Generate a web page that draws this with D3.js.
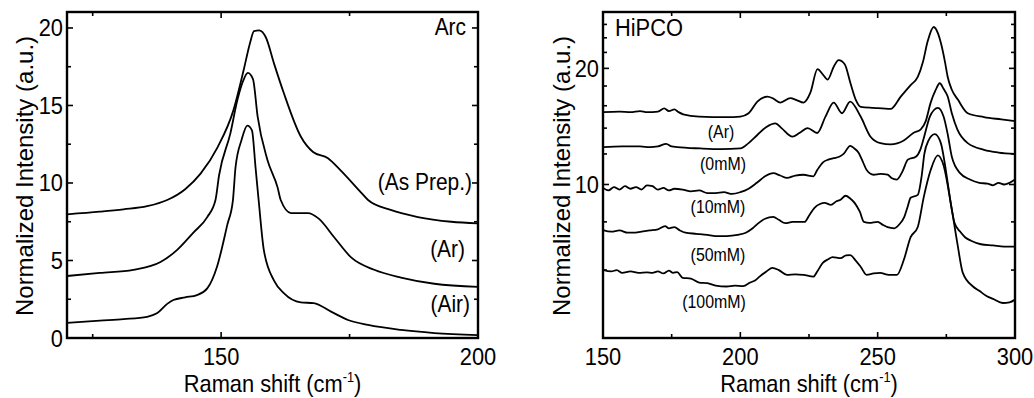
<!DOCTYPE html>
<html>
<head>
<meta charset="utf-8">
<script src="https://cdn.jsdelivr.net/npm/d3@7"></script>
<style>
  body { margin: 0; background: #fff; }
  svg text { font-family: "Liberation Sans", Arial, sans-serif; fill: #000; }
</style>
</head>
<body>
<script>
// ---- Arc panel (linear) ----
const arcAsPrep = [[120,7.98],[126.4,8.15],[131,8.3],[135.6,8.5],[139.5,8.9],[143,9.6],[146,10.6],[149.3,12.3],[152.4,14.7],[154.4,17.3],[155.6,19.0],[156.4,19.8],[157.4,19.85],[158.7,19.4],[160.3,17.7],[162.2,15.8],[165.5,13.0],[167.9,12.0],[170.8,11.6],[173.3,10.8],[177.2,9.4],[178.6,8.9],[183,8.26],[188.3,7.8],[194.8,7.5],[200,7.4]];
const arcAr = [[120,4.0],[126.4,4.2],[132.9,4.4],[138.2,4.9],[141.5,5.7],[144.6,6.8],[147.3,7.8],[148.9,8.9],[149.6,10.5],[151.8,13.2],[153.2,15.4],[154.3,16.6],[155.2,17.1],[156.2,16.7],[157.1,14.3],[159,11.5],[161,9.7],[161.6,8.9],[163.6,8.06],[166.9,8.06],[169,7.7],[172,6.5],[175.3,5.2],[179.8,4.4],[185,3.9],[191.5,3.5],[200,3.3]];
const arcAir = [[120,0.97],[126.4,1.12],[131,1.22],[135.6,1.37],[137.5,1.59],[139.5,2.2],[140.7,2.45],[143,2.62],[145.3,2.77],[147.3,3.2],[149.2,4.6],[151.2,7.3],[152.3,8.9],[152.8,11.0],[154,12.8],[155.1,13.7],[156,13.4],[156.7,11.0],[157.3,8.9],[158.3,5.7],[160.3,3.7],[162.2,2.9],[165.5,2.3],[168,2.25],[171.4,1.7],[174.7,1.16],[178.6,0.84],[185,0.52],[191.5,0.32],[200,0.19]];
const arcLabels = ["(As Prep.)", "(Ar)", "(Air)"];
const arcYTicks = [0, 5, 10, 15, 20];
const arcYMinor = [2.5, 7.5, 12.5, 17.5];
const arcXTicks = [150, 200];
const arcXMinor = [125, 175];

// ---- HiPCO panel (log y) ----
const hipcoAr = [[150,15.4],[156,15.45],[160,15.4],[163.5,15.5],[166,15.4],[170,15.45],[172.3,15.75],[174,15.5],[176,15.65],[177.5,15.4],[179.2,15.2],[185,15.0],[195,14.95],[200,15.0],[203,15.3],[206.2,16.4],[209.9,16.9],[212,16.7],[214.6,16.3],[218.2,16.75],[220.5,16.55],[223,16.3],[225.5,17.3],[228.1,19.9],[230,19.3],[231.8,18.7],[234,20.2],[235.8,21.0],[238,20.5],[240.1,18.3],[242,16.6],[243.8,15.9],[248.5,15.8],[254.7,15.7],[258.4,16.9],[262,18.1],[264.6,19.0],[266.5,20.8],[268.2,23.5],[270.4,25.6],[272,24.6],[273,23.3],[274.5,20.8],[275.5,19.0],[277,17.6],[279.2,16.6],[282.8,15.3],[288.7,14.95],[295,14.75],[300,14.6]];
const hipco0mM = [[150,12.5],[157,12.55],[163.5,12.55],[167,12.5],[170,12.55],[173,12.75],[175,12.55],[177,12.5],[185.4,12.4],[193,12.35],[200,12.4],[203,12.8],[206,13.4],[209.5,14.1],[212.8,14.4],[215,14.0],[219,13.3],[221.5,13.6],[224.5,14.0],[228,13.6],[231,15.0],[234,16.3],[237,15.3],[240,16.4],[243.8,15.0],[247.4,13.3],[251,12.8],[254.7,12.7],[259.5,13.0],[263,13.6],[265.7,13.9],[267.5,14.6],[269.3,16.3],[271,17.5],[272.6,18.3],[274,17.7],[275.5,16.9],[277,15.3],[279,13.9],[282.8,12.8],[288.7,12.3],[294,12.1],[300,12.0]];
const hipco10mM = [[150,9.8],[152,9.65],[154,9.85],[156,9.7],[158,9.9],[160,9.75],[162,9.85],[164,9.7],[166,9.95],[168,9.9],[170,9.7],[172,9.8],[174,9.65],[176,9.75],[179,9.7],[182,9.6],[185,9.65],[188,9.5],[191,9.5],[194,9.55],[197,9.45],[200,9.55],[203,9.75],[206,10.1],[209,10.5],[212,10.7],[214.5,10.55],[217,10.4],[220,10.55],[223,10.6],[226.6,10.5],[228,10.9],[230,11.4],[232,11.6],[234,11.7],[236,11.8],[237.6,12.0],[240,12.6],[241.5,12.4],[243,12.1],[244.5,11.5],[246,10.9],[248.5,10.6],[251,10.65],[253.6,10.6],[255,10.4],[257,10.3],[259,10.8],[261,11.6],[263.9,11.8],[265.5,12.3],[266.8,13.2],[269,15.0],[270.5,15.6],[271.9,15.8],[274,15.0],[275.5,13.5],[277,11.8],[280,10.7],[283.6,10.3],[287,10.1],[290,10.05],[292,9.95],[294,10.1],[296,10.0],[298,10.1],[300,10.3]];
const hipco50mM = [[150,7.62],[153,7.55],[156,7.6],[159,7.5],[161,7.5],[164,7.55],[167,7.6],[170,7.65],[172.6,7.8],[174,7.7],[176,7.75],[178,7.6],[180,7.5],[184,7.45],[188,7.4],[191,7.35],[195,7.35],[199,7.4],[202,7.5],[204.5,7.7],[206.6,7.94],[209,8.15],[212,8.24],[214,8.1],[216.4,7.94],[219,8.0],[221,8.0],[223.4,8.0],[225,8.3],[227,8.7],[229,8.9],[230.7,8.96],[233,8.85],[235,9.05],[236.5,9.13],[238.3,9.35],[240,9.2],[241.6,8.96],[243.5,8.5],[245,8.0],[247,7.95],[250,8.0],[252,7.85],[253.6,7.75],[256,7.7],[258,7.9],[259.7,8.24],[261,8.8],[262,9.24],[264.6,9.4],[266,10.5],[267,12.0],[268.5,13.0],[270.8,13.5],[273,12.8],[274.3,11.5],[275.5,10.1],[277,8.6],[278,7.94],[280,7.55],[281.8,7.3],[284,7.15],[287.6,7.0],[292,6.95],[296,6.9],[300,6.9]];
const hipco100mM = [[150,6.01],[153,5.95],[155,6.0],[157,5.9],[160,5.95],[163,5.9],[166,5.92],[168,5.9],[170,5.95],[172,5.88],[174,5.98],[175.5,5.9],[177,5.93],[179,5.73],[182,5.7],[185,5.57],[188,5.55],[191,5.47],[195,5.44],[198,5.47],[201,5.45],[203.6,5.57],[205.5,5.65],[207,5.77],[209.5,5.95],[211.7,6.08],[214,6.0],[217,5.83],[220,5.85],[223,5.83],[226.6,5.77],[228,5.95],[230,6.26],[232,6.4],[233.6,6.48],[236.5,6.44],[238.5,6.55],[240,6.56],[242,6.35],[243.8,6.12],[246,5.83],[248.5,5.88],[251,5.9],[253,5.85],[254.7,5.83],[257,5.83],[259.5,6.37],[262,7.3],[264.6,7.76],[266.8,9.29],[269.3,10.9],[271.9,11.9],[274,11.2],[276.6,8.96],[279,7.05],[281,5.9],[284.7,5.44],[287,5.3],[289.8,5.13],[292,5.05],[295.6,4.93],[298,4.95],[300,5.03]];
const hipcoLabels = ["(Ar)", "(0mM)", "(10mM)", "(50mM)", "(100mM)"];
const hipcoYTicks = [10, 20];
const hipcoYMinor = [6, 8, 12, 14, 16, 18, 22, 24, 26];
const hipcoXTicks = [150, 200, 250, 300];
const hipcoXMinor = [175, 225, 275];

const width = 1034, height = 398;
const svg = d3.select("body").append("svg")
  .attr("width", width)
  .attr("height", height);

const plotTop = 12, plotBottom = 338;

// text in the original figure is a bit taller than wide, so squeeze it horizontally
function label(parent, px, py, size, anchor, str) {
  return parent.append("text")
    .attr("transform", "translate(" + px + "," + py + ") scale(0.91,1)")
    .attr("text-anchor", anchor)
    .style("font-size", size + "px")
    .text(str);
}

function drawPanel(opts) {
  const x = opts.x, y = opts.y;
  const g = svg.append("g");
  const [x0, x1] = x.range();
  const [y0, y1] = y.range();

  // curves
  const line = d3.line()
    .x(d => x(d[0]))
    .y(d => y(d[1]))
    .curve(d3.curveMonotoneX);
  g.append("g").selectAll("path")
    .data(opts.series)
    .enter().append("path")
    .attr("d", line)
    .attr("fill", "none")
    .attr("stroke", "#000")
    .attr("stroke-width", 1.8)
    .attr("stroke-linejoin", "round");

  // inward ticks on all four sides
  const tk = g.append("g").attr("stroke", "#000").attr("stroke-width", 1.6);
  const addX = (vals, len) => vals.forEach(v => {
    tk.append("line").attr("x1", x(v)).attr("x2", x(v)).attr("y1", y0).attr("y2", y0 - len);
    tk.append("line").attr("x1", x(v)).attr("x2", x(v)).attr("y1", y1).attr("y2", y1 + len);
  });
  const addY = (vals, len) => vals.forEach(v => {
    tk.append("line").attr("y1", y(v)).attr("y2", y(v)).attr("x1", x0).attr("x2", x0 + len);
    tk.append("line").attr("y1", y(v)).attr("y2", y(v)).attr("x1", x1).attr("x2", x1 - len);
  });
  addX(opts.xTicks, 6); addX(opts.xMinor, 4);
  addY(opts.yTicks, 6); addY(opts.yMinor, 4);

  // frame
  g.append("rect")
    .attr("x", x0).attr("y", y1)
    .attr("width", x1 - x0).attr("height", y0 - y1)
    .attr("fill", "none").attr("stroke", "#000").attr("stroke-width", 2.4);

  // tick labels
  opts.xTicks.forEach(d => label(g, x(d), 365, 24, "middle", d));
  opts.yTicks.forEach(d => label(g, x0 - 4, y(d) + 8.5, 24, "end", d));

  // axis titles
  const xt = label(g, (x0 + x1) / 2, 392, 24, "middle", null);
  xt.append("tspan").text("Raman shift (cm");
  xt.append("tspan").attr("dy", -10).style("font-size", "14px").text("-1");
  xt.append("tspan").attr("dy", 10).text(")");

  g.append("text")
    .attr("transform", "translate(" + opts.yTitleX + "," + ((y0 + y1) / 2 + 1) + ") rotate(-90)")
    .attr("text-anchor", "middle")
    .style("font-size", "24px")
    .text("Normalized Intensity (a.u.)");
  return g;
}

// left: Arc
const xArc = d3.scaleLinear().domain([120, 200]).range([67, 478]);
const yArc = d3.scaleLinear().domain([0, 21.03]).range([plotBottom, plotTop]);
const gArc = drawPanel({
  x: xArc, y: yArc,
  series: [arcAsPrep, arcAr, arcAir],
  xTicks: arcXTicks, xMinor: arcXMinor,
  yTicks: arcYTicks, yMinor: arcYMinor,
  yTitleX: 33
});
label(gArc, 466, 35, 23, "end", "Arc");
const arcLabelPos = [[472, 190], [465, 257], [470, 312]];
arcLabels.forEach((d, i) => label(gArc, arcLabelPos[i][0], arcLabelPos[i][1], 23, "end", d));

// right: HiPCO
const xHip = d3.scaleLinear().domain([150, 300]).range([603, 1015]);
const yHip = d3.scaleLog().domain([4, 28]).range([plotBottom, plotTop]);
const gHip = drawPanel({
  x: xHip, y: yHip,
  series: [hipcoAr, hipco0mM, hipco10mM, hipco50mM, hipco100mM],
  xTicks: hipcoXTicks, xMinor: hipcoXMinor,
  yTicks: hipcoYTicks, yMinor: hipcoYMinor,
  yTitleX: 570
});
label(gHip, 615, 36, 24, "start", "HiPCO");
const hipLabelPos = [[721, 138], [723, 169.5], [718, 213], [718, 260.5], [714, 308]];
hipcoLabels.forEach((d, i) => label(gHip, hipLabelPos[i][0], hipLabelPos[i][1], 17.5, "middle", d));
</script>
</body>
</html>
